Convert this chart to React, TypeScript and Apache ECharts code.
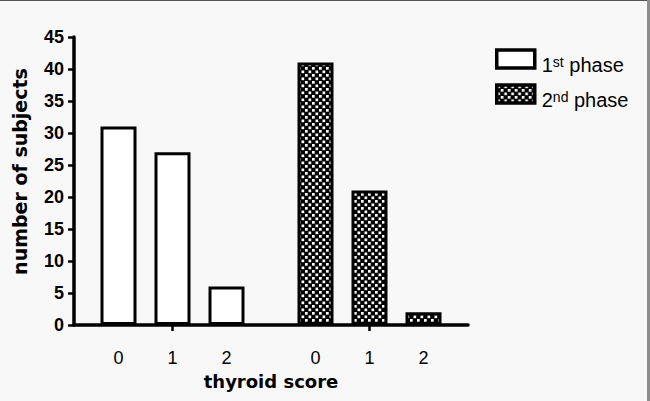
import React, { useEffect, useRef } from 'react';
import * as echarts from 'echarts';

// ---- data ----
const scores = ['0', '1', '2'];
const phases = ['1st phase', '2nd phase'];
const phase1Counts = [31, 27, 6];
const phase2Counts = [41, 21, 2];
const yMin = 0;
const yMax = 45;
const yInterval = 5;

const font = '"Liberation Sans", Arial, sans-serif';
const nameFont = '"DejaVu Sans", Verdana, sans-serif';

function makeChecker(): HTMLCanvasElement {
  const c = document.createElement('canvas');
  c.width = 7;
  c.height = 7;
  const ctx = c.getContext('2d')!;
  ctx.fillStyle = '#000';
  ctx.fillRect(0, 0, 7, 7);
  ctx.fillStyle = '#fff';
  ctx.fillRect(0.5, 0.5, 2.7, 2.7);
  ctx.fillRect(4, 4, 2.7, 2.7);
  return c;
}

export default function App() {
  const ref = useRef<HTMLDivElement>(null);

  useEffect(() => {
    document.body.style.margin = '0';
    const chart = echarts.init(ref.current!, null, { renderer: 'svg' });
    const checker: any = { image: makeChecker(), repeat: 'repeat' };
    const phaseFill: any[] = ['#ffffff', checker];

    const series: any[] = scores.map((s, i) => ({
      type: 'bar',
      name: s,
      xAxisIndex: 0,
      yAxisIndex: 0,
      barWidth: 36,
      barGap: '50%',
      data: [phase1Counts[i], phase2Counts[i]].map((v, j) => ({
        value: v,
        itemStyle: { color: phaseFill[j] },
      })),
      itemStyle: { borderColor: '#000', borderWidth: 3 },
      label: {
        show: true,
        position: 'bottom',
        distance: 24,
        formatter: '{a}',
        color: '#000',
        fontSize: 18,
        fontFamily: font,
      },
    }));
    phases.forEach((p, j) => {
      series.push({
        type: 'bar',
        name: p,
        xAxisIndex: 1,
        yAxisIndex: 1,
        data: [],
        itemStyle: { color: phaseFill[j], borderColor: '#000', borderWidth: 3 },
      });
    });

    chart.setOption({
      animation: false,
      backgroundColor: '#f8f8f8',
      grid: [
        { left: 74, right: 182, top: 37, bottom: 76, outerBoundsMode: 'none' },
        { left: 0, top: 0, width: 10, height: 10, show: false, outerBoundsMode: 'none' },
      ],
      legend: {
        data: phases.map((p, j) => ({
          name: p,
          itemStyle: { color: phaseFill[j], borderColor: '#000', borderWidth: 3.5 },
        })),
        orient: 'vertical',
        left: 490,
        top: 38,
        itemWidth: 38,
        itemHeight: 18,
        itemGap: 3,
        icon: 'rect',
        selectedMode: false,
        formatter: (n: string) => n.replace(/^(\d+)(st|nd|rd|th)/, '$1{sup|$2}'),
        textStyle: {
          fontFamily: font,
          fontSize: 20,
          color: '#000',
          lineHeight: 20,
          padding: [12, 0, 0, 2],
          rich: {
            sup: { fontFamily: font, fontSize: 14, color: '#000', verticalAlign: 'top', lineHeight: 10 },
          },
        },
      },
      xAxis: [
        {
          type: 'category',
          gridIndex: 0,
          data: phases,
          name: 'thyroid score',
          nameLocation: 'middle',
          nameGap: 47,
          nameTextStyle: { fontFamily: nameFont, fontWeight: 'bold', fontSize: 18, color: '#000' },
          axisLine: { show: true, lineStyle: { color: '#000', width: 3.5 } },
          axisTick: { show: true, alignWithLabel: true, length: 6, lineStyle: { color: '#000', width: 2.5 } },
          axisLabel: { show: false },
          splitLine: { show: false },
        },
        { type: 'category', gridIndex: 1, show: false, data: ['-'] },
      ],
      yAxis: [
        {
          type: 'value',
          gridIndex: 0,
          min: yMin,
          max: yMax,
          interval: yInterval,
          name: 'number of subjects',
          nameLocation: 'middle',
          nameGap: 45,
          nameTextStyle: {
            fontFamily: nameFont,
            fontWeight: 'bold',
            fontSize: 19,
            color: '#000',
            padding: [0, 0, 0, 19],
          },
          axisLine: { show: true, lineStyle: { color: '#000', width: 3.5 } },
          axisTick: { show: true, length: 6, lineStyle: { color: '#000', width: 2.5 } },
          axisLabel: { fontFamily: font, fontWeight: 'bold', fontSize: 18, color: '#000', margin: 10 },
          splitLine: { show: false },
        },
        { type: 'value', gridIndex: 1, show: false },
      ],
      series,
      graphic: [
        { type: 'rect', silent: true, shape: { x: 0, y: 0, width: 650, height: 1 }, style: { fill: '#555555' } },
        { type: 'rect', silent: true, shape: { x: 647, y: 0, width: 3, height: 401 }, style: { fill: '#8c8c8c' } },
      ],
    });

    return () => chart.dispose();
  }, []);

  return <div ref={ref} style={{ width: 650, height: 401 }} />;
}
